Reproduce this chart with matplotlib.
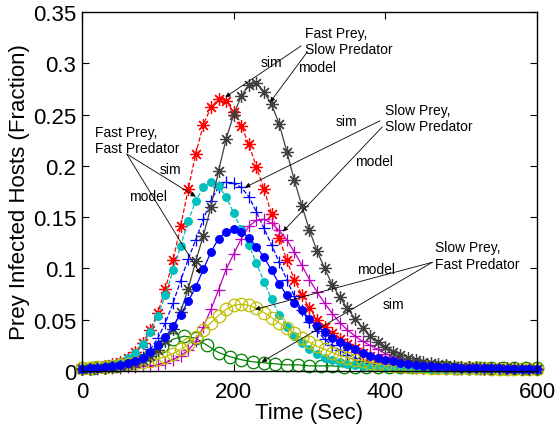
import numpy as np
import matplotlib

matplotlib.use("Agg")
import matplotlib.pyplot as plt

plt.rcParams["font.family"] = ["Liberation Sans", "DejaVu Sans"]

# time grids (sec)
t = np.arange(0, 601, 10)
t_green = np.arange(0, 601, 15)

# Fast Prey, Slow Predator
fpsp_sim = [0.003, 0.003, 0.004, 0.005, 0.007, 0.009, 0.013, 0.019, 0.027, 0.040,
            0.057, 0.080, 0.108, 0.141, 0.177, 0.212, 0.240, 0.257, 0.265, 0.263,
            0.253, 0.239, 0.221, 0.199, 0.177, 0.153, 0.130, 0.108, 0.089, 0.074,
            0.061, 0.050, 0.043, 0.037, 0.031, 0.026, 0.022, 0.018, 0.015, 0.012,
            0.010, 0.009, 0.008, 0.007, 0.006, 0.005, 0.005, 0.004, 0.004, 0.003,
            0.003, 0.003, 0.003, 0.002, 0.002, 0.002, 0.002, 0.002, 0.002, 0.002, 0.002]
fpsp_model = [0.002, 0.002, 0.003, 0.003, 0.004, 0.005, 0.006, 0.008, 0.011, 0.015,
              0.020, 0.029, 0.041, 0.058, 0.080, 0.107, 0.132, 0.160, 0.195, 0.226,
              0.250, 0.268, 0.279, 0.281, 0.272, 0.260, 0.241, 0.214, 0.186, 0.161,
              0.137, 0.117, 0.100, 0.084, 0.072, 0.061, 0.051, 0.042, 0.034, 0.028,
              0.023, 0.019, 0.016, 0.013, 0.011, 0.009, 0.008, 0.007, 0.006, 0.005,
              0.004, 0.004, 0.004, 0.003, 0.003, 0.003, 0.003, 0.003, 0.002, 0.002, 0.002]

# Fast Prey, Fast Predator
fpfp_sim = [0.003, 0.003, 0.004, 0.005, 0.007, 0.009, 0.013, 0.018, 0.026, 0.038,
            0.054, 0.074, 0.098, 0.122, 0.146, 0.166, 0.179, 0.184, 0.180, 0.170,
            0.154, 0.138, 0.123, 0.105, 0.087, 0.070, 0.055, 0.043, 0.034, 0.027,
            0.021, 0.017, 0.013, 0.011, 0.009, 0.007, 0.006, 0.005, 0.004, 0.004,
            0.003, 0.003, 0.003, 0.003, 0.003, 0.003, 0.002, 0.002, 0.002, 0.002,
            0.002, 0.002, 0.002, 0.002, 0.002, 0.002, 0.002, 0.002, 0.002, 0.002, 0.002]
fpfp_model = [0.002, 0.003, 0.003, 0.004, 0.005, 0.006, 0.008, 0.010, 0.013, 0.019,
              0.025, 0.033, 0.044, 0.055, 0.068, 0.082, 0.099, 0.116, 0.129, 0.136,
              0.138, 0.136, 0.130, 0.121, 0.111, 0.098, 0.085, 0.074, 0.066, 0.059,
              0.051, 0.044, 0.038, 0.032, 0.028, 0.024, 0.021, 0.018, 0.015, 0.013,
              0.011, 0.010, 0.008, 0.007, 0.006, 0.005, 0.005, 0.004, 0.004, 0.004,
              0.003, 0.003, 0.003, 0.003, 0.003, 0.003, 0.002, 0.002, 0.002, 0.002, 0.002]

# Slow Prey, Slow Predator
spsp_sim = [0.002, 0.002, 0.003, 0.003, 0.004, 0.005, 0.007, 0.010, 0.014, 0.021,
            0.032, 0.047, 0.066, 0.088, 0.109, 0.128, 0.148, 0.166, 0.179, 0.184,
            0.183, 0.179, 0.170, 0.155, 0.139, 0.123, 0.106, 0.089, 0.073, 0.059,
            0.048, 0.039, 0.031, 0.025, 0.020, 0.016, 0.013, 0.010, 0.008, 0.007,
            0.006, 0.005, 0.004, 0.004, 0.003, 0.003, 0.003, 0.003, 0.002, 0.002,
            0.002, 0.002, 0.002, 0.002, 0.002, 0.002, 0.002, 0.002, 0.002, 0.002, 0.002]
spsp_model = [0.002, 0.002, 0.002, 0.003, 0.003, 0.003, 0.004, 0.004, 0.005, 0.005,
              0.006, 0.008, 0.011, 0.015, 0.020, 0.029, 0.043, 0.060, 0.079, 0.099,
              0.114, 0.129, 0.141, 0.147, 0.148, 0.144, 0.137, 0.128, 0.116, 0.103,
              0.089, 0.077, 0.066, 0.056, 0.047, 0.040, 0.034, 0.029, 0.025, 0.021,
              0.017, 0.014, 0.012, 0.010, 0.008, 0.007, 0.006, 0.005, 0.004, 0.004,
              0.003, 0.003, 0.003, 0.003, 0.002, 0.002, 0.002, 0.002, 0.002, 0.002, 0.002]

# Slow Prey, Fast Predator
spfp_sim = [0.003, 0.003, 0.004, 0.005, 0.007, 0.011, 0.016, 0.024, 0.031, 0.034,
            0.032, 0.025, 0.018, 0.014, 0.011, 0.009, 0.008, 0.007, 0.006, 0.006,
            0.005, 0.005, 0.005, 0.004, 0.004, 0.004, 0.004, 0.004, 0.004, 0.004,
            0.004, 0.004, 0.004, 0.003, 0.003, 0.003, 0.003, 0.003, 0.003, 0.003, 0.003]
spfp_model = [0.003, 0.003, 0.004, 0.004, 0.005, 0.006, 0.007, 0.008, 0.009, 0.010,
              0.012, 0.014, 0.017, 0.021, 0.026, 0.033, 0.040, 0.047, 0.054, 0.060,
              0.064, 0.065, 0.064, 0.061, 0.057, 0.052, 0.047, 0.042, 0.037, 0.032,
              0.028, 0.024, 0.021, 0.018, 0.015, 0.013, 0.011, 0.010, 0.008, 0.007,
              0.006, 0.005, 0.005, 0.004, 0.004, 0.004, 0.003, 0.003, 0.003, 0.003,
              0.003, 0.003, 0.003, 0.003, 0.002, 0.002, 0.002, 0.002, 0.002, 0.002, 0.002]

xticks = [0, 200, 400, 600]
yticks = [0, 0.05, 0.1, 0.15, 0.2, 0.25, 0.3, 0.35]
ytick_labels = ["0", "0.05", "0.1", "0.15", "0.2", "0.25", "0.3", "0.35"]

ASTERISK = (8, 2, 0)  # MATLAB-style '*': a plus laid over a cross

# (x, y, color, linestyle, marker, markersize, filled) in the old MATLAB colour order
series = [
    (t, spsp_sim, (0, 0, 1), "--", "+", 9, True),
    (t_green, spfp_sim, (0, 0.5, 0), "-", "o", 9, False),
    (t, fpsp_sim, (1, 0, 0), "--", ASTERISK, 9, True),
    (t, fpfp_sim, (0, 0.75, 0.75), "--", "o", 5.5, True),
    (t, spsp_model, (0.75, 0, 0.75), "-", "+", 9, True),
    (t, spfp_model, (0.75, 0.75, 0), "-", "o", 9, False),
    (t, fpsp_model, (0.25, 0.25, 0.25), "-", ASTERISK, 9, True),
    (t, fpfp_model, (0, 0, 1), "-", "o", 5.5, True),
]

fig = plt.figure(figsize=(5.56, 4.31), dpi=100)
ax = fig.add_axes([0.1475, 0.1369, 0.8183, 0.8329])

for x, y, color, ls, marker, ms, filled in series:
    ax.plot(x, y, color=color, linestyle=ls, lw=0.9, marker=marker, ms=ms,
            mew=0.9, mfc=color if filled else "none", mec=color, clip_on=False)

ax.set_xlim(0, 600)
ax.set_ylim(0, 0.35)
ax.set_xticks(xticks)
ax.set_yticks(yticks)
ax.set_yticklabels(ytick_labels)
ax.tick_params(direction="in", top=True, right=True, length=5, width=0.8,
               labelsize=16, pad=4)
ax.tick_params(axis="x", pad=7)
for sp in ax.spines.values():
    sp.set_linewidth(1.0)

ax.set_xlabel("Time (Sec)", fontsize=16, labelpad=0)
ax.set_ylabel("Prey Infected Hosts (Fraction)", fontsize=16, labelpad=2)

# annotations: group label, its arrows (start -> tip) and sim/model tags
fs = 10
arrow = dict(arrowstyle="-|>", lw=0.6, color="k", mutation_scale=7,
             shrinkA=0, shrinkB=0)

ax.text(294, 0.322, "Fast Prey,\nSlow Predator", fontsize=fs, va="center")
ax.annotate("", xy=(189, 0.267), xytext=(289, 0.317), arrowprops=arrow)
ax.annotate("", xy=(248, 0.262), xytext=(297, 0.311), arrowprops=arrow)
ax.text(235, 0.301, "sim", fontsize=fs, va="center")
ax.text(285, 0.296, "model", fontsize=fs, va="center")

ax.text(400, 0.247, "Slow Prey,\nSlow Predator", fontsize=fs, va="center")
ax.annotate("", xy=(215, 0.179), xytext=(393, 0.244), arrowprops=arrow)
ax.annotate("", xy=(265, 0.136), xytext=(396, 0.238), arrowprops=arrow)
ax.text(334, 0.244, "sim", fontsize=fs, va="center")
ax.text(360, 0.205, "model", fontsize=fs, va="center")

ax.text(17, 0.225, "Fast Prey,\nFast Predator", fontsize=fs, va="center")
ax.annotate("", xy=(150, 0.170), xytext=(59, 0.2116), arrowprops=arrow)
ax.annotate("", xy=(156, 0.0946), xytext=(59, 0.2116), arrowprops=arrow)
ax.text(103, 0.197, "sim", fontsize=fs, va="center")
ax.text(62, 0.171, "model", fontsize=fs, va="center")

ax.text(466, 0.1126, "Slow Prey,\nFast Predator", fontsize=fs, va="center")
ax.annotate("", xy=(228, 0.060), xytext=(462, 0.106), arrowprops=arrow)
ax.annotate("", xy=(237, 0.0088), xytext=(462, 0.106), arrowprops=arrow)
ax.text(363, 0.0994, "model", fontsize=fs, va="center")
ax.text(397, 0.0653, "sim", fontsize=fs, va="center")

fig.savefig("out.png", dpi=100)
